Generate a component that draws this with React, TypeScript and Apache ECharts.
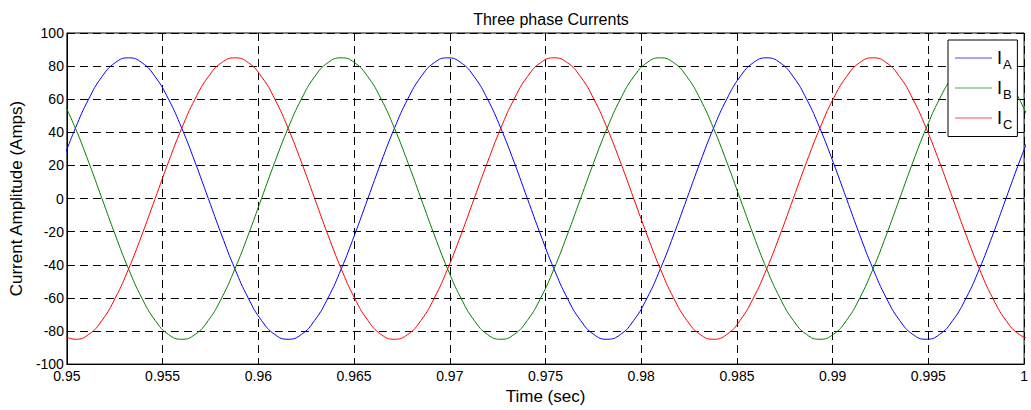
import React, { useEffect, useRef } from "react";
import * as echarts from "echarts";

const titleText = "Three phase Currents";
const xName = "Time (sec)";
const yName = "Current Amplitude (Amps)";
const seriesNames = ["IA", "IB", "IC"];
const seriesColors = ["#0000ff", "#008000", "#ff0000"];

const time = [
  0.949748, 0.950442, 0.951137, 0.951831, 0.952526, 0.95322, 0.953914, 0.954609, 0.955303, 0.955998,
  0.956692, 0.957387, 0.958081, 0.958775, 0.95947, 0.960164, 0.960859, 0.961553, 0.962248, 0.962942,
  0.963636, 0.964331, 0.965025, 0.96572, 0.966414, 0.967109, 0.967803, 0.968498, 0.969192, 0.969886,
  0.970581, 0.971275, 0.97197, 0.972664, 0.973359, 0.974053, 0.974748, 0.975442, 0.976136, 0.976831,
  0.977525, 0.97822, 0.978914, 0.979609, 0.980303, 0.980998, 0.981692, 0.982386, 0.983081, 0.983775,
  0.98447, 0.985164, 0.985859, 0.986553, 0.987248, 0.987942, 0.988636, 0.989331, 0.990025, 0.99072,
  0.991414, 0.992109, 0.992803, 0.993498, 0.994192, 0.994886, 0.995581, 0.996275, 0.99697, 0.997664,
  0.998359, 0.999053, 0.999748, 1.000442,
];

const iA = [
  22, 42.5, 60.1, 73.6, 82.1,
  85, 82.1, 73.6, 60.1, 42.5, 22, 0, -22, -42.5, -60.1, -73.6, -82.1, -85, -82.1, -73.6, -60.1, -42.5, -22, 0, 22, 42.5, 60.1, 73.6, 82.1,
  85, 82.1, 73.6, 60.1, 42.5, 22, 0, -22, -42.5, -60.1, -73.6, -82.1, -85, -82.1, -73.6, -60.1, -42.5, -22, 0, 22, 42.5, 60.1, 73.6, 82.1,
  85, 82.1, 73.6, 60.1, 42.5, 22, 0, -22, -42.5, -60.1, -73.6, -82.1, -85, -82.1, -73.6, -60.1, -42.5, -22, 0, 22, 42.5,
];

const iB = [
  60.1, 42.5, 22, 0, -22, -42.5, -60.1, -73.6, -82.1, -85, -82.1, -73.6, -60.1, -42.5, -22, 0, 22, 42.5, 60.1, 73.6, 82.1,
  85, 82.1, 73.6, 60.1, 42.5, 22, 0, -22, -42.5, -60.1, -73.6, -82.1, -85, -82.1, -73.6, -60.1, -42.5, -22, 0, 22, 42.5, 60.1, 73.6, 82.1,
  85, 82.1, 73.6, 60.1, 42.5, 22, 0, -22, -42.5, -60.1, -73.6, -82.1, -85, -82.1, -73.6, -60.1, -42.5, -22, 0, 22, 42.5, 60.1, 73.6, 82.1,
  85, 82.1, 73.6, 60.1, 42.5,
];

const iC = [
  -82.1, -85, -82.1, -73.6, -60.1, -42.5, -22, 0, 22, 42.5, 60.1, 73.6, 82.1,
  85, 82.1, 73.6, 60.1, 42.5, 22, 0, -22, -42.5, -60.1, -73.6, -82.1, -85, -82.1, -73.6, -60.1, -42.5, -22, 0, 22, 42.5, 60.1, 73.6, 82.1,
  85, 82.1, 73.6, 60.1, 42.5, 22, 0, -22, -42.5, -60.1, -73.6, -82.1, -85, -82.1, -73.6, -60.1, -42.5, -22, 0, 22, 42.5, 60.1, 73.6, 82.1,
  85, 82.1, 73.6, 60.1, 42.5, 22, 0, -22, -42.5, -60.1, -73.6, -82.1, -85,
];

const seriesValues = [iA, iB, iC];

const FONT = "'Liberation Sans', Arial, Helvetica, sans-serif";

export default function App() {
  const ref = useRef<HTMLDivElement>(null);

  useEffect(() => {
    if (!ref.current) return;
    const chart = echarts.init(ref.current, undefined, { renderer: "svg" });
    const gridLine = { show: true, lineStyle: { color: "#000", type: [8, 5] as any, width: 1 } };
    const option: any = {
      animation: false,
      backgroundColor: "#fff",
      textStyle: { fontFamily: FONT, color: "#000" },
      title: {
        text: titleText,
        left: 546,
        top: 6,
        textAlign: "center",
        textStyle: { fontFamily: FONT, fontSize: 16, fontWeight: "normal", color: "#000" },
      },
      grid: {
        left: 65,
        right: 1,
        top: 33,
        bottom: 41,
        show: true,
        borderColor: "#000",
        borderWidth: 1,
        backgroundColor: "#fff",
      },
      legend: {
        left: 948,
        top: 40,
        orient: "vertical",
        backgroundColor: "#fff",
        borderColor: "#000",
        borderWidth: 1,
        borderRadius: 0,
        padding: [9, 5, 6, 7],
        itemGap: 8.5,
        itemWidth: 37,
        itemHeight: 1.2,
        itemTextGap: 4,
        selectedMode: false,
        data: seriesNames.map((n, i) => ({
          name: n,
          icon: "rect",
          itemStyle: { color: seriesColors[i], opacity: 0.7 },
        })),
        formatter: (name: string) => `{i|I}{s|${name.slice(1)}}`,
        textStyle: {
          fontFamily: FONT,
          color: "#000",
          rich: {
            i: { fontSize: 18, fontFamily: FONT, color: "#000", lineHeight: 24 },
            s: { fontSize: 13, fontFamily: FONT, color: "#000", padding: [12, 0, 0, 1] },
          },
        },
      },
      xAxis: {
        type: "value",
        min: 0.95,
        max: 1,
        interval: 0.005,
        name: xName,
        nameLocation: "middle",
        nameGap: 22,
        nameTextStyle: { fontFamily: FONT, fontSize: 17, color: "#000" },
        axisLine: { show: true, onZero: false, lineStyle: { color: "#000", width: 1 } },
        axisTick: { show: true, inside: true, length: 5, lineStyle: { color: "#000" } },
        axisLabel: {
          fontFamily: FONT,
          fontSize: 14,
          color: "#000",
          margin: 5,
          formatter: (v: number) => String(+v.toFixed(3)),
        },
        splitLine: gridLine,
      },
      yAxis: {
        type: "value",
        min: -100,
        max: 100,
        interval: 20,
        name: yName,
        nameLocation: "middle",
        nameGap: 40,
        nameTextStyle: { fontFamily: FONT, fontSize: 17, color: "#000" },
        axisLine: { show: true, lineStyle: { color: "#000", width: 1 } },
        axisTick: { show: true, inside: true, length: 5, lineStyle: { color: "#000" } },
        axisLabel: { fontFamily: FONT, fontSize: 14, color: "#000", margin: 3 },
        splitLine: gridLine,
      },
      series: seriesNames.map((name, si) => ({
        name,
        type: "line",
        symbol: "none",
        showSymbol: false,
        smooth: true,
        clip: true,
        color: seriesColors[si],
        lineStyle: { color: seriesColors[si], width: 1 },
        data: time.map((t, i) => [t, seriesValues[si][i]]),
        z: 3,
      })),
    };
    chart.setOption(option);
    return () => chart.dispose();
  }, []);

  return (
    <div
      ref={ref}
      style={{ position: "fixed", left: 0, top: 0, width: 1031, height: 410, background: "#fff" }}
    />
  );
}
